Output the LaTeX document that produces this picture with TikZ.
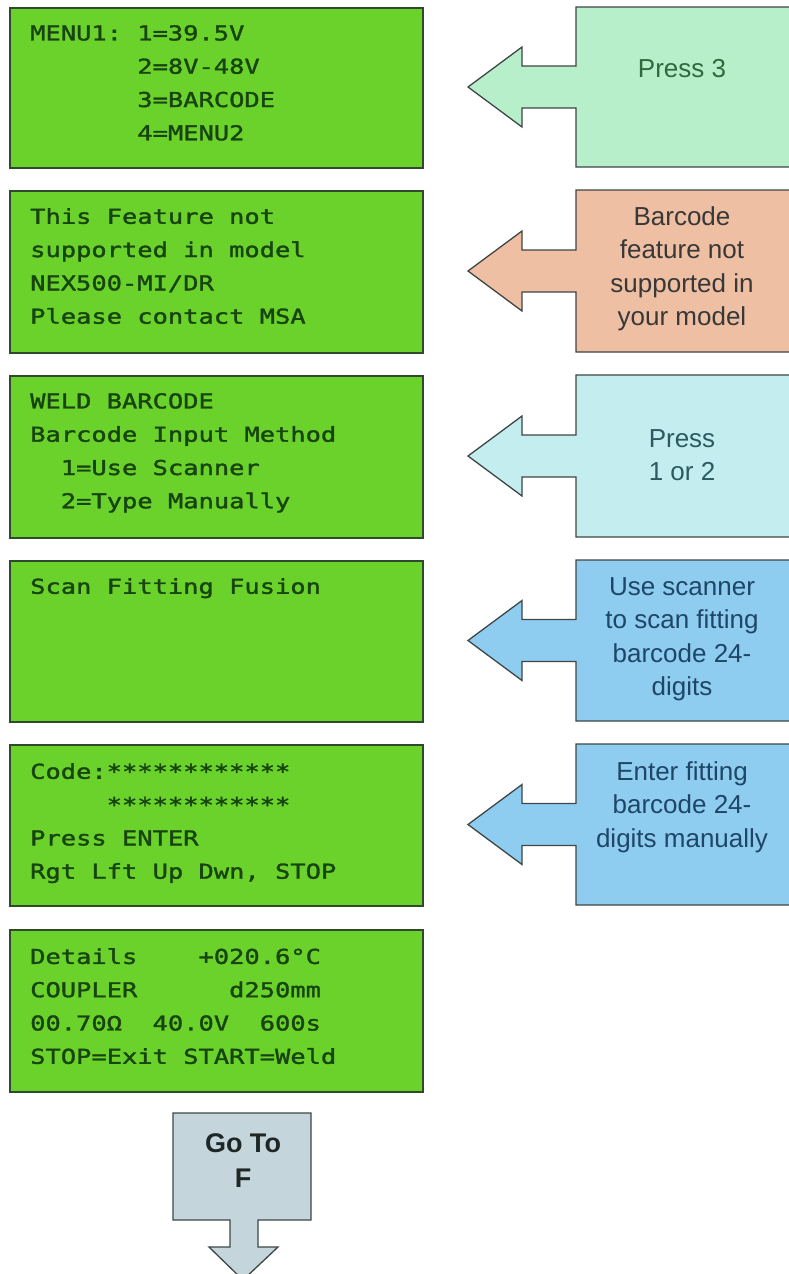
\documentclass[tikz,border=0pt]{standalone}
\usepackage{fontspec}
\setmainfont{Liberation Sans}
\newfontfamily\lcdfont[FakeStretch=1.24,FakeBold=1.6]{DejaVu Sans Mono}
\definecolor{lcdgreen}{HTML}{6BD22C}
\definecolor{lcdedge}{HTML}{2E4A2A}
\definecolor{lcdink}{HTML}{17440F}
\definecolor{mintfill}{HTML}{B8EFCB}
\definecolor{mintink}{HTML}{2E6A3E}
\definecolor{salmonfill}{HTML}{EFBFA3}
\definecolor{salmonink}{HTML}{383838}
\definecolor{cyanfill}{HTML}{C3EDEE}
\definecolor{cyanink}{HTML}{2C5A60}
\definecolor{skyfill}{HTML}{8FCDF0}
\definecolor{skyink}{HTML}{1E4668}
\definecolor{gotofill}{HTML}{C4D6DC}
\definecolor{gotoink}{HTML}{1E2626}
\definecolor{arrowedge}{HTML}{3E4646}
\newcommand\leftcallout[4]{%
  \pgfmathsetmacro\cmid{(#1+#2)/2}%
  \draw[callout, fill=#3] (800,#1) -- (576,#1) -- (576,\cmid-21) -- (522,\cmid-21)
    -- (522,\cmid-40) -- (468,\cmid) -- (522,\cmid+40) -- (522,\cmid+21)
    -- (576,\cmid+21) -- (576,#2) -- (800,#2) -- cycle;
  \coordinate (#4) at (468,\cmid);}
\begin{document}
\begin{tikzpicture}[x=1pt,y=-1pt,
  lcdbox/.style={draw=lcdedge, fill=lcdgreen, line width=1.5pt, minimum width=413pt, anchor=north west, inner sep=0pt},
  lcdtext/.style={font=\lcdfont\fontsize{20.5}{33.3}\selectfont, text=lcdink, align=left, inner sep=0pt, anchor=north west},
  callout/.style={draw=arrowedge, line width=1.3pt, line join=miter},
  hint/.style={font=\fontsize{26}{33.5}\selectfont, align=center, inner sep=0pt}]
\useasboundingbox (0,0) rectangle (788,1274);
\fill[white] (0,0) rectangle (788,1274);

% LCD screens
\node[lcdbox, minimum height=160pt] (m1) at (9,7) {};
\node[lcdbox, minimum height=162pt] (m2) at (9,190) {};
\node[lcdbox, minimum height=162pt] (m3) at (9,375) {};
\node[lcdbox, minimum height=161pt] (m4) at (9,560) {};
\node[lcdbox, minimum height=161pt] (m5) at (9,744) {};
\node[lcdbox, minimum height=162pt] (m6) at (9,929) {};

\node[lcdtext] (t1) at (30,25) {MENU1:\ 1=39.5V\\\phantom{MENU1:\ }2=8V-48V\\\phantom{MENU1:\ }3=BARCODE\\\phantom{MENU1:\ }4=MENU2};
\node[lcdtext] (t2) at (30,208) {This Feature not\\supported in model\\NEX500-MI/DR\\Please contact MSA};
\node[lcdtext] (t3) at (30,393) {WELD BARCODE\\Barcode Input Method\\\phantom{xx}1=Use Scanner\\\phantom{xx}2=Type Manually};
\node[lcdtext] (t4) at (30,578) {Scan Fitting Fusion};
\node[lcdtext] (t5) at (30,763) {Code:************\\\phantom{Code:}************\\Press ENTER\\Rgt Lft Up Dwn, STOP};
\node[lcdtext] (t6) at (30,948) {Details\ \ \ \ +020.6°C\\COUPLER\ \ \ \ \ \ d250mm\\00.70Ω\ \ 40.0V\ \ 600s\\STOP=Exit START=Weld};

% hint callouts
\leftcallout{7}{167}{mintfill}{a1}
\leftcallout{190}{352}{salmonfill}{a2}
\leftcallout{375}{537}{cyanfill}{a3}
\leftcallout{560}{721}{skyfill}{a4}
\leftcallout{744}{905}{skyfill}{a5}

\node[hint, text=mintink] (h1) at (682,69) {Press 3};
\node[hint, text=salmonink] (h2) at (682,269) {Barcode\\feature not\\supported in\\your model};
\node[hint, text=cyanink] (h3) at (682,455) {Press\\1 or 2};
\node[hint, text=skyink] (h4) at (682,639) {Use scanner\\to scan fitting\\barcode 24-\\digits};
\node[hint, text=skyink] (h5) at (682,807) {Enter fitting\\barcode 24-\\digits manually};

% go to F
\draw[callout, fill=gotofill] (173,1113) -- (311,1113) -- (311,1220) -- (258,1220)
  -- (258,1247) -- (278,1247) -- (243,1280) -- (209,1247) -- (230,1247)
  -- (230,1220) -- (173,1220) -- cycle;
\node[hint, font=\bfseries\fontsize{27}{35}\selectfont, text=gotoink] (g) at (243,1161) {Go To\\F};
\end{tikzpicture}
\end{document}
